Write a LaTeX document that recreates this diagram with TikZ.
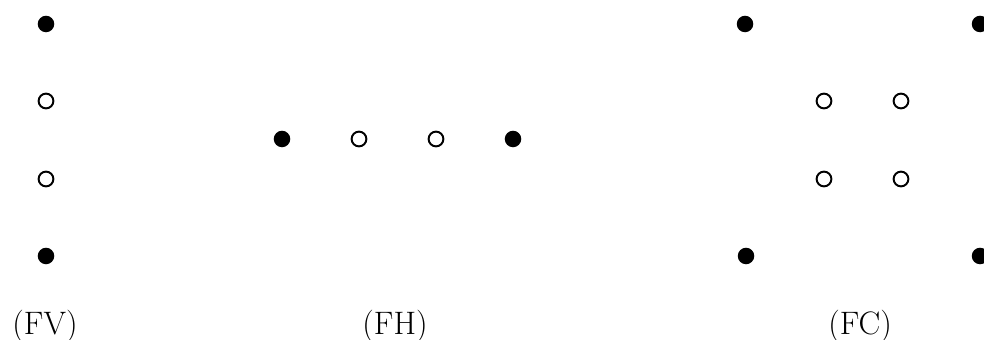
\documentclass[tikz,border=0pt]{standalone}
\usetikzlibrary{positioning}
\tikzset{
  full/.style={circle,fill=black,inner sep=0pt,minimum size=9.4pt},
  hollow/.style={circle,draw=black,line width=1.1pt,fill=white,
                 inner sep=0pt,minimum size=8.4pt},
  caption/.style={font=\fontsize{18.5}{22}\selectfont,anchor=base},
}
\begin{document}
\begin{tikzpicture}[x=0.02cm,y=-0.02cm]
  \useasboundingbox (0,0) rectangle (984,340);
  % vertical row
  \foreach \i/\y/\s in {1/24/full,2/101/hollow,3/179/hollow,4/256/full}{
    \node[\s] (fv\i) at (46,\y) {};
  }
  \node[caption] (fvlabel) at (45,335) {(FV)};
  % horizontal row
  \foreach \i/\x/\s in {1/282/full,2/359/hollow,3/436/hollow,4/513/full}{
    \node[\s] (fh\i) at (\x,139) {};
  }
  \node[caption] (fhlabel) at (395,335) {(FH)};
  % corners and centre square
  \foreach \i/\x/\y in {1/745/24,2/980/24,3/746/256,4/980/256}{
    \node[full] (fcout\i) at (\x,\y) {};
  }
  \foreach \i/\x/\y in {1/824/101,2/901/101,3/824/179,4/901/179}{
    \node[hollow] (fcin\i) at (\x,\y) {};
  }
  \node[caption] (fclabel) at (860,335) {(FC)};
\end{tikzpicture}
\end{document}
